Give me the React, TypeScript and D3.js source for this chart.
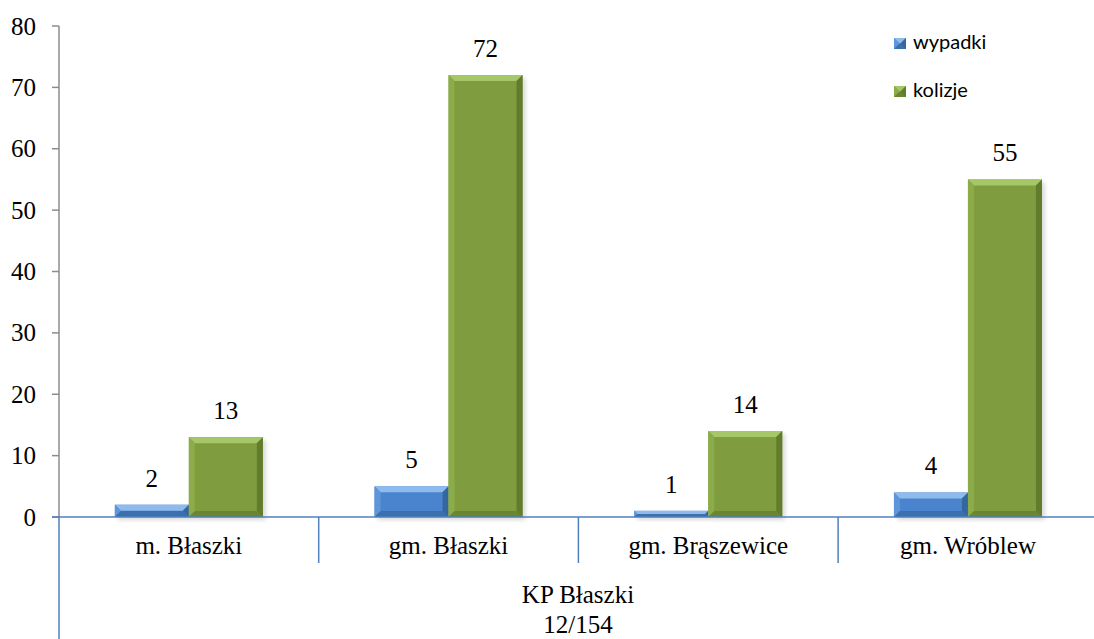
import * as d3 from 'd3';

const categories = ['m. Błaszki', 'gm. Błaszki', 'gm. Brąszewice', 'gm. Wróblew'];
const wypadki = [2, 5, 1, 4];
const kolizje = [13, 72, 14, 55];
const yTicks = [0, 10, 20, 30, 40, 50, 60, 70, 80];
const groupLabel = 'KP Błaszki';
const groupSub = '12/154';

const W = 1094;
const H = 639;
const left = 59;
const top = 26;
const bottom = 517;

const series = [
  { name: 'wypadki', values: wypadki, face: '#4A84CF', light: '#8FBAEC', mid: '#5F96DA', dark: '#35679F' },
  { name: 'kolizje', values: kolizje, face: '#7F9D3F', light: '#A6C768', mid: '#8CAC4A', dark: '#617C2C' },
];

function Bar({ x, y, w, h, s, shadow = true }: any) {
  const b = Math.min(6, h / 2, w / 2);
  const x2 = x + w;
  const y2 = y + h;
  const pts = (a: number[][]) => a.map((p) => p.join(',')).join(' ');
  return (
    <g>
      {shadow && <rect x={x + 3} y={y + 3} width={w} height={h} fill="#000" opacity={0.15} filter="url(#blur)" />}
      <rect x={x} y={y} width={w} height={h} fill={s.face} />
      <polygon points={pts([[x, y], [x2, y], [x2 - b, y + b], [x + b, y + b]])} fill={s.light} />
      <polygon points={pts([[x, y], [x + b, y + b], [x + b, y2 - b], [x, y2]])} fill={s.mid} />
      <polygon points={pts([[x2, y], [x2, y2], [x2 - b, y2 - b], [x2 - b, y + b]])} fill={s.dark} />
      <polygon points={pts([[x, y2], [x + b, y2 - b], [x2 - b, y2 - b], [x2, y2]])} fill={s.dark} opacity={0.7} />
    </g>
  );
}

export default function App() {
  const x = d3.scaleBand<string>().domain(categories).range([left, left + 4 * 259.7]).paddingInner(0).paddingOuter(0);
  const y = d3.scaleLinear().domain([0, 80]).range([bottom, top]);
  const barW = 74;
  const fs = 25;
  const serif = { fontFamily: '"Liberation Serif", "Times New Roman", "DejaVu Serif", serif' };
  const sans = { fontFamily: 'Lato, "Open Sans", sans-serif' };

  return (
    <svg width={W} height={H} style={{ position: 'absolute', left: 0, top: 0, background: '#fff' }}>
      <defs>
        <filter id="blur" x="-20%" y="-20%" width="140%" height="140%">
          <feGaussianBlur stdDeviation="2" />
        </filter>
      </defs>
      {/* y axis */}
      <line x1={left} x2={left} y1={top} y2={bottom} stroke="#8C8C8C" strokeWidth={1.5} />
      {yTicks.map((t) => (
        <g key={t}>
          <line x1={left - 7} x2={left} y1={y(t)} y2={y(t)} stroke="#8C8C8C" strokeWidth={1.5} />
          <text x={left - 23} y={y(t) + 8.5} textAnchor="end" style={serif} fontSize={fs} fill="#000">
            {t}
          </text>
        </g>
      ))}
      {/* bars */}
      {categories.map((c, i) => {
        const cx = (x(c) ?? 0) + x.bandwidth() / 2;
        return series.map((s, j) => {
          const bx = cx - barW + j * barW;
          const v = s.values[i];
          const by = y(v);
          return (
            <g key={c + s.name}>
              <Bar x={bx} y={by} w={barW} h={bottom - by} s={s} />
              <text x={bx + barW / 2} y={by - 18} textAnchor="middle" style={serif} fontSize={fs} fill="#000">
                {v}
              </text>
            </g>
          );
        });
      })}
      {/* x axis */}
      <line x1={left - 7} x2={W} y1={bottom} y2={bottom} stroke="#4F81BD" strokeWidth={1.5} />
      {categories.map((c, i) => (
        <line key={'sep' + c} x1={x(c)} x2={x(c)} y1={bottom} y2={i === 0 ? H : 563} stroke="#4F81BD" strokeWidth={1.5} />
      ))}
      <line x1={left + 4 * 259.7} x2={left + 4 * 259.7} y1={bottom} y2={563} stroke="#4F81BD" strokeWidth={1.5} />
      {categories.map((c) => (
        <text key={'lbl' + c} x={(x(c) ?? 0) + x.bandwidth() / 2} y={554} textAnchor="middle" style={serif} fontSize={fs} fill="#000">
          {c}
        </text>
      ))}
      <text x={578} y={603} textAnchor="middle" style={serif} fontSize={fs} fill="#000">
        {groupLabel}
      </text>
      <text x={578} y={633} textAnchor="middle" style={serif} fontSize={fs} fill="#000">
        {groupSub}
      </text>
      {/* legend */}
      {series.map((s, j) => (
        <g key={'leg' + s.name} transform={`translate(894, ${38 + j * 48})`}>
          <Bar x={0} y={0} w={12} h={11} s={s} shadow={false} />
          <text x={19} y={11} style={sans} fontSize={20} fill="#000">
            {s.name}
          </text>
        </g>
      ))}
    </svg>
  );
}
